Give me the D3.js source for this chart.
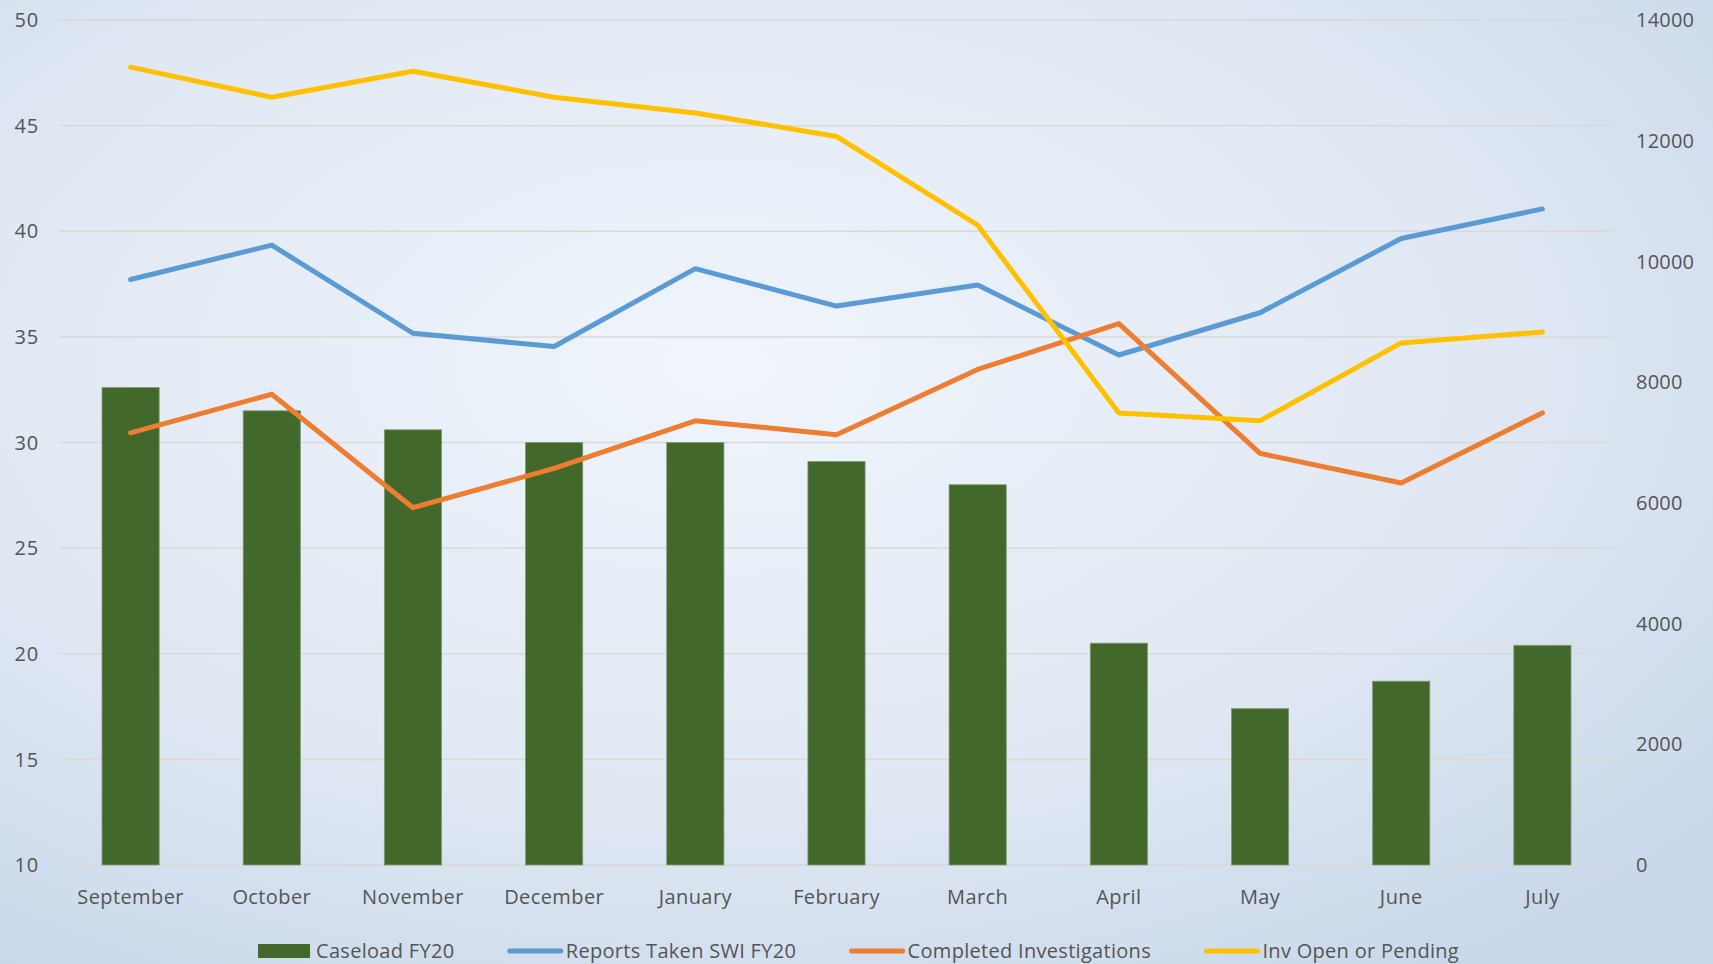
<!DOCTYPE html>
<html>
<head>
<meta charset="utf-8">
<script src="https://cdn.jsdelivr.net/npm/d3@7"></script>
<style>
  html, body { margin: 0; padding: 0; overflow: hidden; }
  svg text { font-family: "Open Sans", "Liberation Sans", sans-serif; fill: #555555; }
</style>
</head>
<body>
<svg id="chart" width="1713" height="964"></svg>
<script>
// data
var months = ["September","October","November","December","January","February","March","April","May","June","July"];
var caseload = [32.6, 31.5, 30.6, 30.0, 30.0, 29.1, 28.0, 20.5, 17.4, 18.7, 20.4];
var reportsTaken = [9700, 10270, 8810, 8590, 9880, 9260, 9610, 8450, 9150, 10380, 10870];
var completedInv = [7160, 7800, 5920, 6570, 7360, 7130, 8210, 8970, 6820, 6330, 7490];
var invOpen = [13220, 12720, 13150, 12720, 12460, 12070, 10600, 7490, 7360, 8650, 8830];
var leftTicks = [10, 15, 20, 25, 30, 35, 40, 45, 50];
var rightTicks = [0, 2000, 4000, 6000, 8000, 10000, 12000, 14000];

var W = 1713, H = 964;
var MARGIN = {left: 60, right: 100, top: 20, bottom: 99};

var svg = d3.select("#chart");

// background
var defs = svg.append("defs");
var grad = defs.append("radialGradient").attr("id","bg")
  .attr("cx","42%").attr("cy","38%").attr("r","75%");
grad.append("stop").attr("offset","0%").attr("stop-color","#f0f5fc");
grad.append("stop").attr("offset","60%").attr("stop-color","#e0e8f3");
grad.append("stop").attr("offset","100%").attr("stop-color","#c9d8ea");
svg.append("rect").attr("width",W).attr("height",H).attr("fill","url(#bg)");

var x = d3.scaleBand()
  .domain(months)
  .range([MARGIN.left, W - MARGIN.right])
  .paddingInner(0.595)
  .paddingOuter(0.2975);
var yL = d3.scaleLinear().domain([10,50]).range([H - MARGIN.bottom, MARGIN.top]);
var yR = d3.scaleLinear().domain([0,14000]).range([H - MARGIN.bottom, MARGIN.top]);

// gridlines
svg.append("g").selectAll("line").data(leftTicks).enter().append("line")
  .attr("x1", MARGIN.left).attr("x2", W - MARGIN.right)
  .attr("y1", function(d){return yL(d)}).attr("y2", function(d){return yL(d)})
  .attr("stroke","#d9d9d9").attr("stroke-width",1.5);

// left axis labels
svg.append("g").selectAll("text").data(leftTicks).enter().append("text")
  .attr("x", 39).attr("y", function(d){return yL(d)})
  .attr("dy","0.36em").attr("text-anchor","end")
  .style("font-size","20px").style("letter-spacing","0.8px")
  .text(function(d){return d});

// right axis labels
svg.append("g").selectAll("text").data(rightTicks).enter().append("text")
  .attr("x", 1636).attr("y", function(d){return yR(d)})
  .attr("dy","0.36em").attr("text-anchor","start")
  .style("font-size","20px").style("letter-spacing","0.2px")
  .text(function(d){return d});

// month labels
svg.append("g").selectAll("text").data(months).enter().append("text")
  .attr("x", function(d,i){return x(d) + x.bandwidth()/2})
  .attr("y", 904).attr("text-anchor","middle")
  .style("font-size","20px").style("letter-spacing","0.4px")
  .text(function(d){return d});

// bars
svg.append("g").selectAll("rect").data(caseload).enter().append("rect")
  .attr("x", function(d,i){return x(months[i])})
  .attr("width", x.bandwidth())
  .attr("y", function(d){return yL(d)})
  .attr("height", function(d){return yL(10) - yL(d)})
  .attr("fill","#43682b")
  .attr("stroke","#7f9b70").attr("stroke-width",0.8);

// lines
var series = [
  {name:"Reports Taken SWI FY20", values: reportsTaken, color:"#5b9bd5"},
  {name:"Completed Investigations", values: completedInv, color:"#ed7d31"},
  {name:"Inv Open or Pending", values: invOpen, color:"#ffc000"}
];
var line = d3.line()
  .x(function(d,i){return x(months[i]) + x.bandwidth()/2})
  .y(function(d){return yR(d)});
svg.append("g").selectAll("path").data(series).enter().append("path")
  .attr("d", function(s){return line(s.values)})
  .attr("fill","none")
  .attr("stroke", function(s){return s.color})
  .attr("stroke-width",5)
  .attr("stroke-linejoin","round")
  .attr("stroke-linecap","round");

// legend, spread so it spans the same width as the original
var legendItems = [{name:"Caseload FY20", color:"#43682b", type:"bar"}].concat(
  series.map(function(s){return {name:s.name, color:s.color, type:"line"}}));
var LEG_LEFT = 258, LEG_RIGHT = 1459;
var SW = 55;
var legend = svg.append("g").attr("transform","translate(0,958)");
var groups = [], widths = [];
legendItems.forEach(function(item){
  var g = legend.append("g");
  if(item.type == "bar")
    g.append("rect").attr("x",0).attr("y",-14).attr("width",SW - 3).attr("height",14).attr("fill",item.color);
  else
    g.append("line").attr("x1",2).attr("x2",SW - 2).attr("y1",-7).attr("y2",-7)
      .attr("stroke",item.color).attr("stroke-width",5).attr("stroke-linecap","round");
  var t = g.append("text").attr("x", SW + 3).attr("y",0)
    .style("font-size","20px").style("letter-spacing","0.3px")
    .text(item.name);
  groups.push(g);
  widths.push(SW + 3 + t.node().getComputedTextLength());
});
var gap = (LEG_RIGHT - LEG_LEFT - d3.sum(widths)) / (widths.length - 1);
var cursor = LEG_LEFT;
groups.forEach(function(g,i){
  g.attr("transform","translate(" + cursor + ",0)");
  cursor += widths[i] + gap;
});
</script>
</body>
</html>
